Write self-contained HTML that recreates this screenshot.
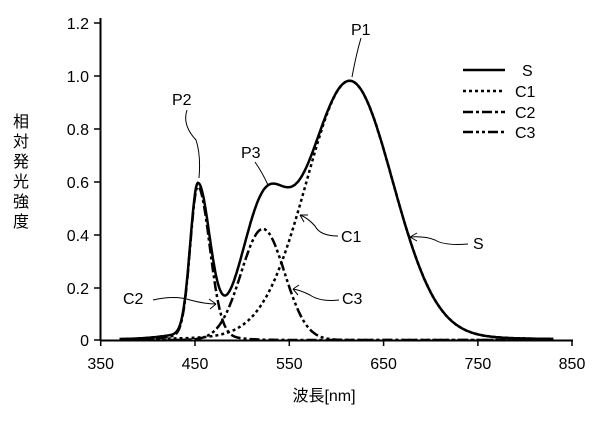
<!DOCTYPE html>
<html><head><meta charset="utf-8"><style>
body{margin:0;background:#fff}
svg{display:block}
text{font-family:"Liberation Sans","Noto Sans CJK JP",sans-serif;fill:#000}
</style></head><body>
<svg id="s" width="612" height="424" viewBox="0 0 612 424" xmlns="http://www.w3.org/2000/svg">
<g stroke="#000" stroke-width="2" fill="none">
<line x1="100.5" y1="18" x2="100.5" y2="341"/>
<line x1="100" y1="340.5" x2="573" y2="340.5"/>
</g>
<g stroke="#000" stroke-width="1.5">
<line x1="94" y1="23" x2="100" y2="23"/><line x1="94" y1="76" x2="100" y2="76"/>
<line x1="94" y1="129" x2="100" y2="129"/><line x1="94" y1="182" x2="100" y2="182"/>
<line x1="94" y1="235" x2="100" y2="235"/><line x1="94" y1="288" x2="100" y2="288"/>
<line x1="94" y1="340" x2="100" y2="340"/>
<line x1="100.7" y1="340" x2="100.7" y2="346"/><line x1="195" y1="340" x2="195" y2="346"/>
<line x1="289.3" y1="340" x2="289.3" y2="346"/><line x1="383.6" y1="340" x2="383.6" y2="346"/>
<line x1="477.9" y1="340" x2="477.9" y2="346"/><line x1="572" y1="340" x2="572" y2="346"/>
</g>
<g font-size="16" text-anchor="end">
<text x="89" y="29">1.2</text><text x="89" y="82">1.0</text><text x="89" y="135">0.8</text>
<text x="89" y="188">0.6</text><text x="89" y="241">0.4</text><text x="89" y="294">0.2</text>
<text x="89" y="346">0</text>
</g>
<g font-size="16" text-anchor="middle">
<text x="100.7" y="369">350</text><text x="195" y="369">450</text><text x="289.3" y="369">550</text>
<text x="383.6" y="369">650</text><text x="477.9" y="369">750</text><text x="572" y="369">850</text>
</g>
<text x="324" y="401" font-size="16" text-anchor="middle">波長[nm]</text>
<g font-size="16" text-anchor="middle">
<text x="21" y="127">相</text><text x="21" y="147">対</text><text x="21" y="167">発</text>
<text x="21" y="187">光</text><text x="21" y="207">強</text><text x="21" y="227">度</text>
</g>
<g id="curves" fill="none" stroke="#000"></g>
<g stroke="#000" stroke-width="2.5" fill="none">
<line x1="463" y1="70" x2="505" y2="70"/>
<line x1="463" y1="91" x2="505" y2="91" stroke-dasharray="3,3"/>
<line x1="463" y1="112" x2="505" y2="112" stroke-dasharray="10,3,3,3"/>
<line x1="463" y1="132" x2="505" y2="132" stroke-dasharray="10,3,3,3,3,3"/>
</g>
<g font-size="16">
<text x="522" y="76">S</text><text x="515" y="97">C1</text><text x="515" y="118">C2</text><text x="515" y="138">C3</text>
<text x="351" y="35">P1</text><text x="172" y="105">P2</text><text x="241" y="158">P3</text>
<text x="341" y="242">C1</text><text x="473" y="249">S</text>
<text x="123" y="304">C2</text><text x="342" y="304">C3</text>
</g>
<g stroke="#000" stroke-width="1" fill="none">
<path d="M361 38 Q356 55 352 77"/>
<path d="M187 110 Q182 125 196 140 Q201 155 199 178"/>
<path d="M255 162 Q262 172 268 185"/>
<path d="M338 236 Q320 236 315 226 Q308 218 300 215"/><path d="M300 215 l8 0 M300 215 l4 7"/>
<path d="M468 244 Q445 246 435 240 Q425 236 410 237"/><path d="M410 237 l7 -4 M410 237 l7 4"/>
<path d="M153 300 Q175 295 190 300 Q205 304 216 304"/><path d="M216 304 l-7 -5 M216 304 l-6 5"/>
<path d="M339 300 Q320 302 310 295 Q300 290 293 289"/><path d="M293 289 l6 -4 M293 289 l5 6"/>
</g>
</svg>
<script>
function X(w){return 100.7+(w-350)*0.943}
function Y(v){return 340-v*264.5}
function g(w,m,s){return Math.exp(-(w-m)*(w-m)/(2*s*s))}
function c1(w){var l=1/(1+Math.pow((w-614)/60,2));return 0.98*(0.94*g(w,614,46)+0.06*l)}
function c2(w){return 0.56*g(w,453,w<453?8:12.5)+0.02*g(w,453,30)}
function c3(w){return 0.42*g(w,522,23)}
function path(f,a,b){var d="";for(var w=a;w<=b;w+=1){d+=(w==a?"M":"L")+X(w).toFixed(1)+" "+Y(f(w)).toFixed(1)}return d}
var G=document.getElementById("curves");
function add(d,dash,sw){var p=document.createElementNS("http://www.w3.org/2000/svg","path");p.setAttribute("d",d);p.setAttribute("stroke-width",sw);if(dash)p.setAttribute("stroke-dasharray",dash);G.appendChild(p)}
add(path(c1,370,830),"3,3",2.5);
add(path(c2,370,830),"10,3,3,3",2.5);
add(path(c3,370,830),"10,3,3,3,3,3",2.5);
add(path(function(w){return c1(w)+c2(w)+c3(w)},370,830),null,2.5);
</script>
</body></html>
